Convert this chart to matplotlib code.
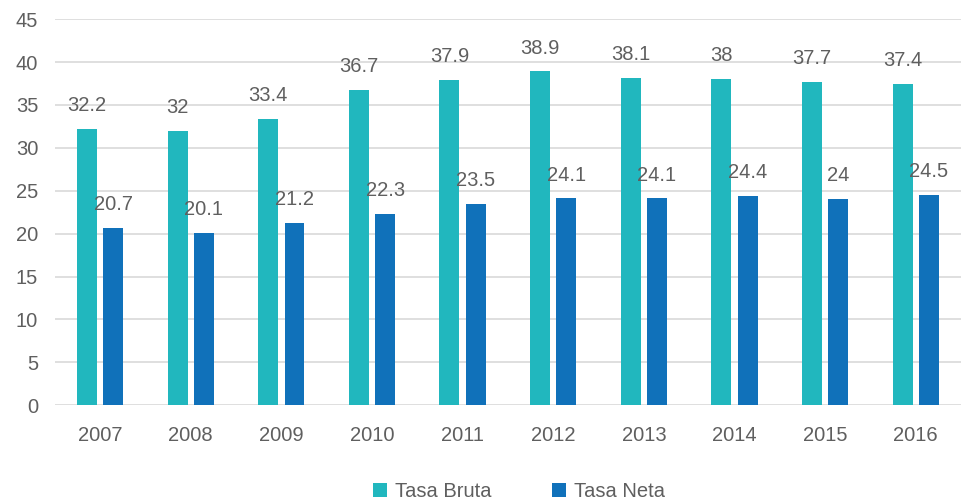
import numpy as np
import matplotlib.pyplot as plt

years = ["2007", "2008", "2009", "2010", "2011", "2012", "2013", "2014", "2015", "2016"]
tasa_bruta = [32.2, 32, 33.4, 36.7, 37.9, 38.9, 38.1, 38, 37.7, 37.4]
tasa_neta = [20.7, 20.1, 21.2, 22.3, 23.5, 24.1, 24.1, 24.4, 24, 24.5]

plt.rcParams['font.family'] = ['Liberation Sans', 'DejaVu Sans']
grey = '#5f5f5f'

fig = plt.figure(figsize=(9.61, 5.04), dpi=100)
ax = fig.add_axes([0.057, 0.196, 0.943, 0.766])

x = np.arange(len(years))
w = 0.22
b1 = ax.bar(x - 0.145, tasa_bruta, w, color='#21B7BE', label='Tasa Bruta', zorder=3)
b2 = ax.bar(x + 0.145, tasa_neta, w, color='#1071BA', label='Tasa Neta', zorder=3)

# value labels
for bars in (b1, b2):
    for r in bars:
        v = r.get_height()
        ax.annotate(f"{v:g}", (r.get_x() + r.get_width() / 2, v),
                    xytext=(0, 10), textcoords='offset points',
                    ha='center', va='bottom', fontsize=14.5, color=grey)

ax.set_xlim(-0.5, len(years) - 0.5)
ax.set_ylim(0, 45)
ax.set_yticks(range(0, 46, 5))
ax.set_xticks(x)
ax.set_xticklabels(years)
ax.tick_params(axis='both', length=0, labelsize=14.5, labelcolor=grey)
ax.tick_params(axis='x', pad=15)
ax.tick_params(axis='y', pad=12)
ax.grid(axis='y', color='#D9D9D9', linewidth=1.2, zorder=0)
for s in ax.spines.values():
    s.set_visible(False)

fig.legend(handles=[b1, b2], loc='lower center', ncol=2, frameon=False,
           fontsize=14.5, labelcolor=grey, handlelength=0.7, handleheight=0.7,
           handletextpad=0.4, columnspacing=3, bbox_to_anchor=(0.54, -0.03))

fig.savefig('out.png', dpi=100)
